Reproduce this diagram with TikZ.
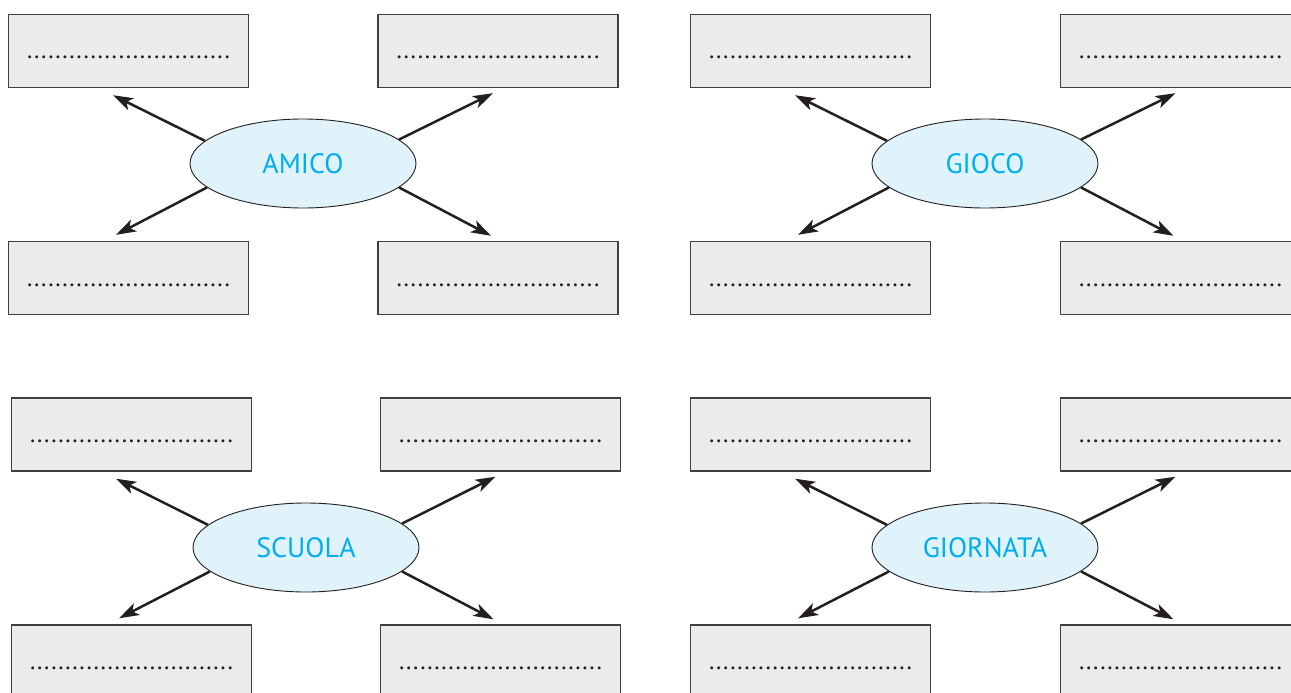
\documentclass[tikz,border=0pt]{standalone}
\usepackage{fontspec}
\setmainfont{PT Sans}
\usetikzlibrary{shapes.geometric, arrows.meta}

\definecolor{boxfill}{HTML}{EAEBED}
\definecolor{boxline}{HTML}{404040}
\definecolor{bubble}{HTML}{E0F2FA}
\definecolor{keyword}{HTML}{00AEEF}
\definecolor{ink}{HTML}{231F20}

\newcommand{\dotrow}{\fontsize{25pt}{30pt}\selectfont\foreach \k in {1,...,29}{\makebox[7.05pt]{.}}}

\begin{document}
\begin{tikzpicture}[x=1pt, y=-1pt,
    field/.style={draw=boxline, fill=boxfill, line width=1.4pt, minimum width=240pt, minimum height=73pt,
                  inner sep=0pt, text height=16pt, text depth=0pt, text=ink},
    topic/.style={draw=ink, fill=bubble, ellipse, line width=0.9pt, minimum width=226pt, minimum height=89pt,
                  inner sep=0pt, text=keyword, font=\fontsize{28pt}{32pt}\selectfont},
    link/.style={draw=ink, line width=2.5pt, -{Stealth[length=20pt, width=13pt, inset=5pt]}}]
    \useasboundingbox (0,0) rectangle (1291,693);

    % amico
    \node[topic] (amico)     at (303,163.5)   {AMICO};
    \node[field] (amico-nw)  at (128.5,51)    {\dotrow};
    \node[field] (amico-ne)  at (498,51)      {\dotrow};
    \node[field] (amico-sw)  at (128.5,278)   {\dotrow};
    \node[field] (amico-se)  at (498,278)     {\dotrow};

    \draw[link] (amico.167) -- ([xshift=-15.5pt, yshift=-7pt]amico-nw.south);
    \draw[link] (amico.14)  -- ([xshift=-5pt,    yshift=-5pt]amico-ne.south);
    \draw[link] (amico.194) -- ([xshift=-12.5pt, yshift=6pt]amico-sw.north);
    \draw[link] (amico.346) -- ([xshift=-7pt,    yshift=5pt]amico-se.north);

    % gioco
    \node[topic] (gioco)     at (985,163.5)   {GIOCO};
    \node[field] (gioco-nw)  at (810.5,51)    {\dotrow};
    \node[field] (gioco-ne)  at (1180.5,51)   {\dotrow};
    \node[field] (gioco-sw)  at (810.5,278)   {\dotrow};
    \node[field] (gioco-se)  at (1180.5,278)  {\dotrow};

    \draw[link] (gioco.167) -- ([xshift=-15.5pt, yshift=-7pt]gioco-nw.south);
    \draw[link] (gioco.14)  -- ([xshift=-5pt,    yshift=-5pt]gioco-ne.south);
    \draw[link] (gioco.194) -- ([xshift=-12.5pt, yshift=6pt]gioco-sw.north);
    \draw[link] (gioco.346) -- ([xshift=-7pt,    yshift=5pt]gioco-se.north);

    % scuola
    \node[topic] (scuola)    at (306,547.5)   {SCUOLA};
    \node[field] (scuola-nw) at (131.5,434.5) {\dotrow};
    \node[field] (scuola-ne) at (500.5,434.5) {\dotrow};
    \node[field] (scuola-sw) at (131.5,661.5) {\dotrow};
    \node[field] (scuola-se) at (500.5,661.5) {\dotrow};

    \draw[link] (scuola.167) -- ([xshift=-15.5pt, yshift=-7pt]scuola-nw.south);
    \draw[link] (scuola.14)  -- ([xshift=-5pt,    yshift=-5pt]scuola-ne.south);
    \draw[link] (scuola.194) -- ([xshift=-12.5pt, yshift=6pt]scuola-sw.north);
    \draw[link] (scuola.346) -- ([xshift=-7pt,    yshift=5pt]scuola-se.north);

    % giornata
    \node[topic] (giornata)    at (985,547.5)    {GIORNATA};
    \node[field] (giornata-nw) at (810.5,434.5)  {\dotrow};
    \node[field] (giornata-ne) at (1180.5,434.5) {\dotrow};
    \node[field] (giornata-sw) at (810.5,661.5)  {\dotrow};
    \node[field] (giornata-se) at (1180.5,661.5) {\dotrow};

    \draw[link] (giornata.167) -- ([xshift=-15.5pt, yshift=-7pt]giornata-nw.south);
    \draw[link] (giornata.14)  -- ([xshift=-5pt,    yshift=-5pt]giornata-ne.south);
    \draw[link] (giornata.194) -- ([xshift=-12.5pt, yshift=6pt]giornata-sw.north);
    \draw[link] (giornata.346) -- ([xshift=-7pt,    yshift=5pt]giornata-se.north);
\end{tikzpicture}
\end{document}
